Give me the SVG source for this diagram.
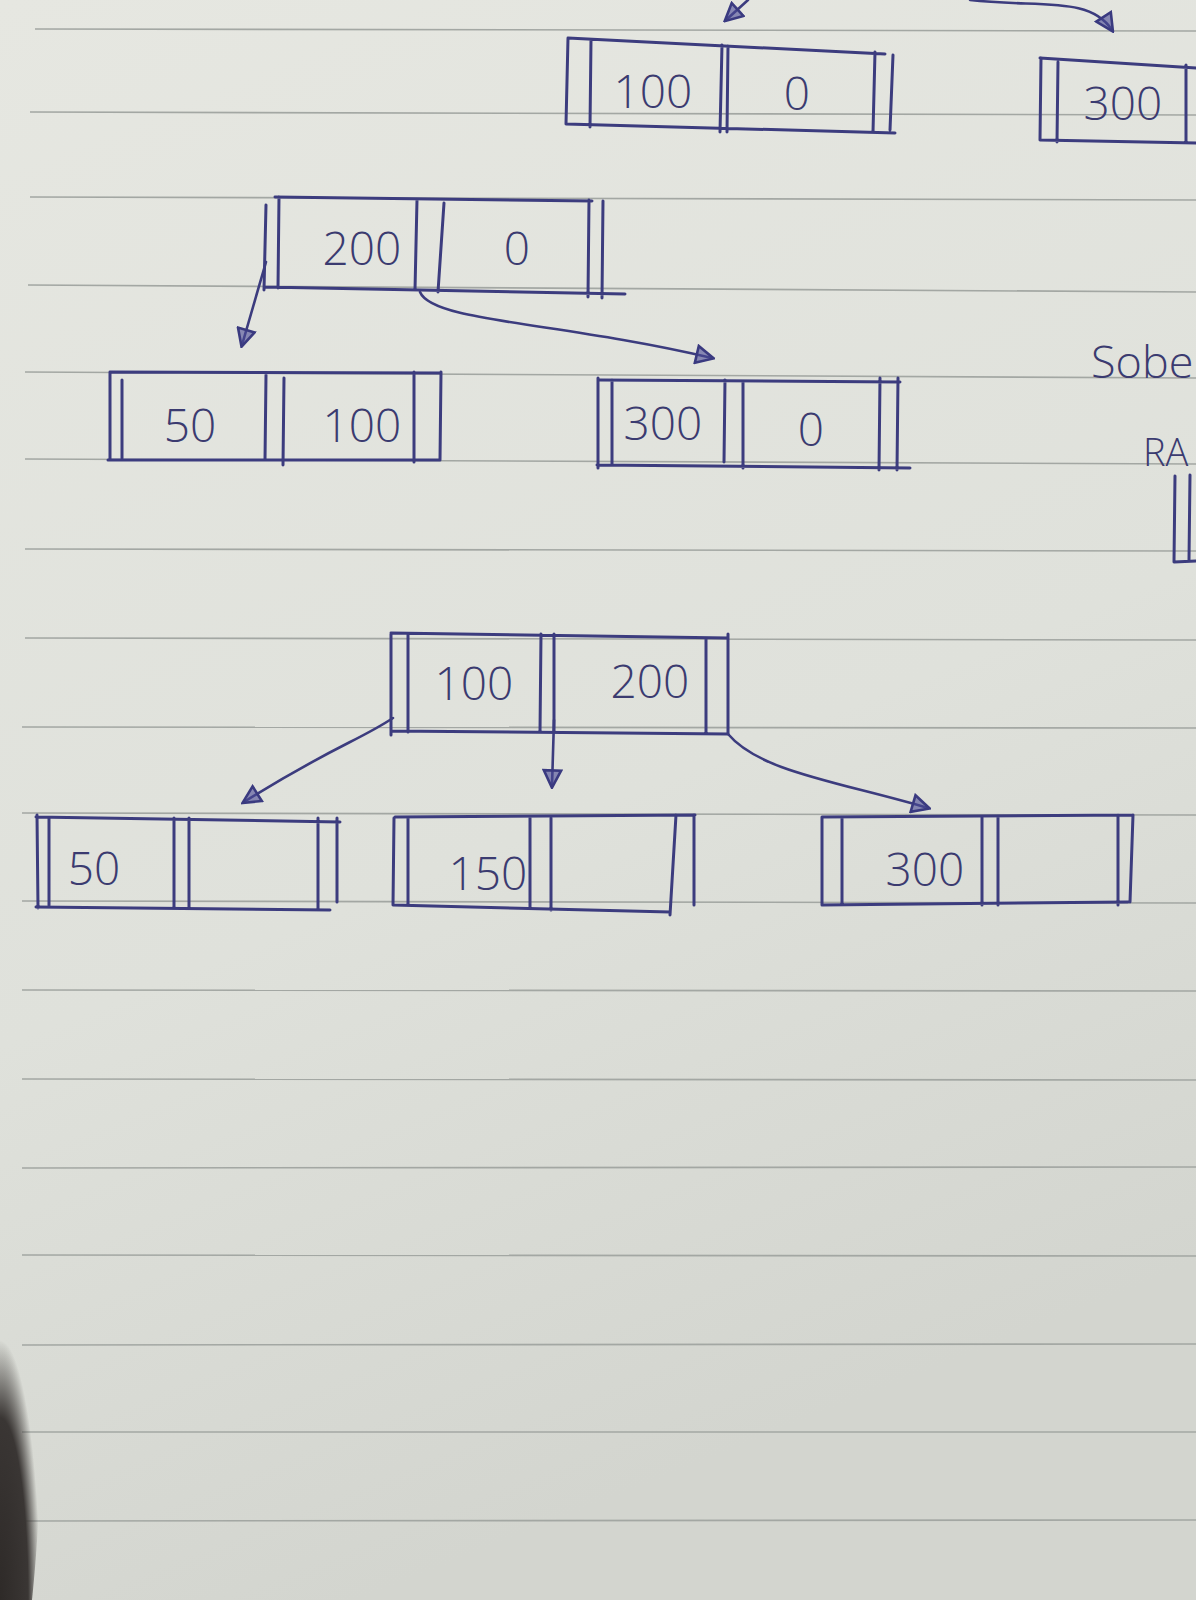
<svg xmlns="http://www.w3.org/2000/svg" width="1196" height="1600" viewBox="0 0 1196 1600">
<defs>
<linearGradient id="paper" x1="0" y1="0" x2="0.3" y2="1">
<stop offset="0" stop-color="#e6e7e1"/>
<stop offset="0.6" stop-color="#dfe1db"/>
<stop offset="1" stop-color="#d3d5cf"/>
</linearGradient>
<radialGradient id="shadow" cx="0" cy="1" r="1">
<stop offset="0" stop-color="#2e2a28"/>
<stop offset="0.7" stop-color="#3a3634"/>
<stop offset="1" stop-color="#3a3634" stop-opacity="0"/>
</radialGradient>
<marker id="ah" viewBox="0 0 12 12" refX="10" refY="6" markerWidth="8" markerHeight="8" orient="auto" markerUnits="strokeWidth">
<path d="M1,1 L11,6 L1,11 Z" fill="#4a4a96" stroke="#3a3a80" stroke-width="1.5" fill-opacity="0.6"/>
</marker>
<style>
.rule{stroke:#a3a7a3;stroke-width:1.6;fill:none}
.ink{stroke:#3c3c7e;stroke-width:3;fill:none;stroke-linecap:round;stroke-linejoin:round}
.conn{stroke:#3c3c7e;stroke-width:2.6;fill:none;stroke-linecap:round;marker-end:url(#ah)}
.t{font-family:"Open Sans","DejaVu Sans",sans-serif;font-weight:300;font-size:46px;fill:#3b3b70;text-anchor:middle}
.tw{font-family:"Open Sans","DejaVu Sans",sans-serif;font-weight:300;fill:#3b3b70}
</style>
</defs>
<rect width="1196" height="1600" fill="url(#paper)"/>
<g id="rules">
<path class="rule" d="M35,29 L1196,31"/>
<path class="rule" d="M30,112 L1196,115"/>
<path class="rule" d="M30,197 L1196,200"/>
<path class="rule" d="M28,285 L1196,292"/>
<path class="rule" d="M25,372 L1196,378"/>
<path class="rule" d="M25,459 L1196,464"/>
<path class="rule" d="M25,549 L1196,551"/>
<path class="rule" d="M25,638 L1196,640"/>
<path class="rule" d="M22,727 L1196,728"/>
<path class="rule" d="M22,813 L1196,815"/>
<path class="rule" d="M22,901 L1196,903"/>
<path class="rule" d="M22,990 L1196,991"/>
<path class="rule" d="M22,1079 L1196,1080"/>
<path class="rule" d="M22,1168 L1196,1167"/>
<path class="rule" d="M22,1255 L1196,1256"/>
<path class="rule" d="M22,1345 L1196,1344"/>
<path class="rule" d="M22,1432 L1196,1432"/>
<path class="rule" d="M22,1521 L1196,1520"/>
</g>
<path d="M0,1340 C28,1355 42,1420 40,1480 C38,1540 34,1580 32,1600 L0,1600 Z" fill="url(#shadow)"/>

<g id="connectors">
<path class="conn" d="M748,0 L726,20"/>
<path class="conn" d="M970,0 C1040,8 1090,-4 1112,30"/>
<path class="conn" d="M266,262 L242,345"/>
<path class="conn" d="M420,292 C432,322 560,322 712,358"/>
<path class="conn" d="M393,718 C360,740 330,748 244,802"/>
<path class="conn" d="M554,720 L552,786"/>
<path class="conn" d="M728,734 C760,772 840,782 928,808"/>
</g>

<g id="node-top-100-0">
<path class="ink" d="M568,38 L885,54 M566,124 L895,133 M568,38 L566,124 M591,40 L590,127 M722,45 L720,132 M728,46 L727,132 M875,52 L873,132 M893,55 L890,130"/>
<text class="t" x="653" y="108">100</text>
<text class="t" x="797" y="110">0</text>
</g>

<g id="node-top-300">
<path class="ink" d="M1040,58 L1196,68 M1040,140 L1196,143 M1041,58 L1040,140 M1058,62 L1057,142 M1186,65 L1186,143"/>
<text class="t" x="1123" y="120">300</text>
</g>

<g id="node-200-0">
<path class="ink" d="M275,197 L592,201 M265,287 L625,294 M266,205 L264,290 M279,197 L278,288 M417,200 L415,290 M444,203 L438,292 M589,200 L588,297 M603,201 L602,298"/>
<text class="t" x="362" y="265">200</text>
<text class="t" x="517" y="265">0</text>
</g>

<g id="node-50-100">
<path class="ink" d="M110,372 L440,373 M108,460 L440,460 M110,372 L110,460 M122,380 L122,458 M266,375 L265,460 M284,378 L283,465 M414,372 L414,462 M441,372 L440,460"/>
<text class="t" x="190" y="442">50</text>
<text class="t" x="362" y="442">100</text>
</g>

<g id="node-300-0">
<path class="ink" d="M600,380 L900,382 M597,465 L910,468 M598,378 L598,468 M612,380 L612,465 M725,380 L724,462 M743,382 L743,468 M880,378 L879,470 M898,378 L897,470"/>
<text class="t" x="663" y="440">300</text>
<text class="t" x="811" y="446">0</text>
</g>

<g id="note-sobe">
<text class="tw" x="1091" y="378" font-size="45">Sobe</text>
<text class="tw" x="1143" y="466" font-size="38">RA</text>
<path class="ink" d="M1175,476 L1174,562 M1190,475 L1189,560 M1174,562 L1196,561"/>
</g>

<g id="node-root-100-200">
<path class="ink" d="M391,633 L728,638 M391,731 L728,734 M391,634 L391,735 M408,634 L408,732 M541,634 L540,732 M554,634 L554,732 M706,638 L706,734 M728,634 L728,734"/>
<text class="t" x="474" y="700">100</text>
<text class="t" x="650" y="698">200</text>
</g>

<g id="node-50">
<path class="ink" d="M36,817 L340,822 M36,907 L330,910 M37,815 L38,908 M49,818 L49,905 M174,818 L174,908 M189,818 L189,908 M318,818 L318,908 M337,818 L337,902"/>
<text class="t" x="94" y="885">50</text>
</g>

<g id="node-150">
<path class="ink" d="M395,817 L695,815 M393,905 L670,912 M394,818 L393,905 M408,818 L408,905 M530,818 L530,908 M551,818 L551,910 M676,815 L670,915 M694,815 L694,905"/>
<text class="t" x="488" y="890">150</text>
</g>

<g id="node-300">
<path class="ink" d="M822,817 L1133,815 M822,905 L1128,902 M822,817 L822,905 M842,817 L842,905 M982,817 L982,905 M998,817 L998,905 M1118,815 L1118,905 M1133,815 L1130,902"/>
<text class="t" x="925" y="886">300</text>
</g>
</svg>
